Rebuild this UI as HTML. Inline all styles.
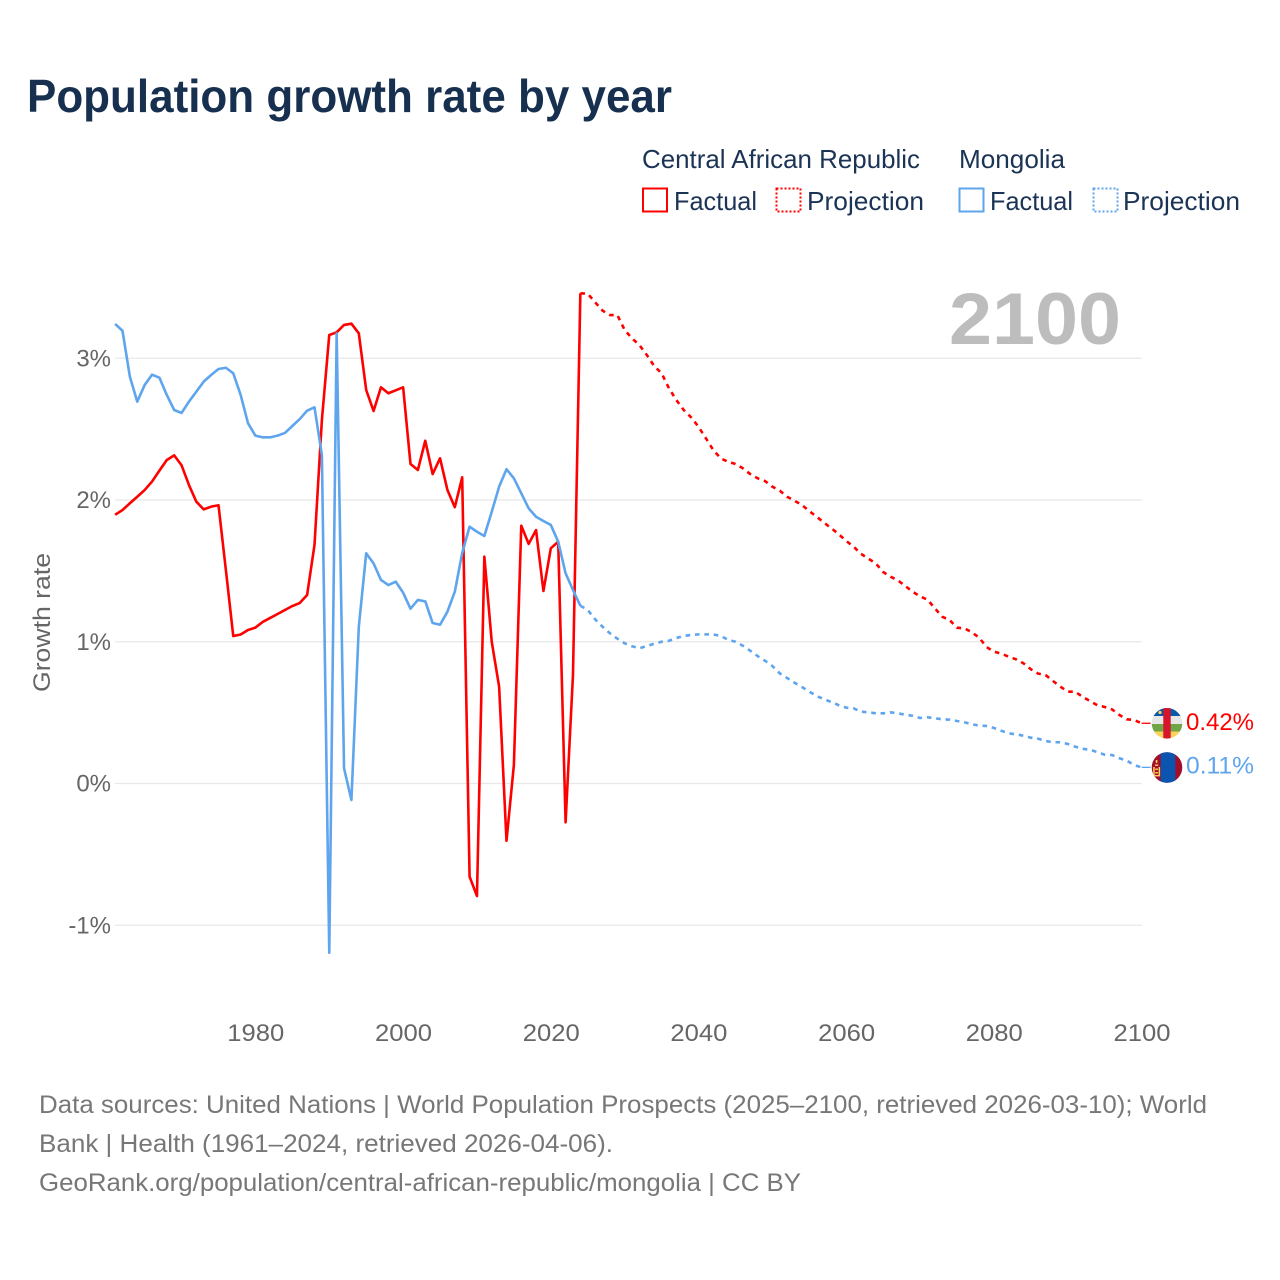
<!DOCTYPE html>
<html lang="en">
<head>
<meta charset="utf-8">
<title>Population growth rate by year</title>
<style>
html,body{margin:0;padding:0;background:#fff;width:1280px;height:1280px;overflow:hidden}
svg{display:block}
text{font-family:"Liberation Sans",sans-serif}
</style>
</head>
<body>
<svg id="chart" width="1280" height="1280" viewBox="0 0 1280 1280" xmlns="http://www.w3.org/2000/svg">
  <defs>
    <clipPath id="clip-car"><circle cx="1167" cy="723.3" r="15.3"/></clipPath>
    <clipPath id="clip-mng"><circle cx="1167" cy="767.5" r="15.3"/></clipPath>
  </defs>
  <text x="27" y="112" font-size="46" font-weight="700" fill="#17304f" textLength="645" lengthAdjust="spacingAndGlyphs">Population growth rate by year</text>

  <g>
    <text x="642" y="168" font-size="26" fill="#1b3355" textLength="278" lengthAdjust="spacingAndGlyphs">Central African Republic</text>
    <text x="959" y="168" font-size="26" fill="#1b3355" textLength="106" lengthAdjust="spacingAndGlyphs">Mongolia</text>
    <rect x="643" y="188.5" width="24" height="23" fill="none" stroke="#ff0000" stroke-width="2"/>
    <text x="674" y="210" font-size="26" fill="#1b3355" textLength="83" lengthAdjust="spacingAndGlyphs">Factual</text>
    <rect x="776.5" y="188.5" width="24" height="23" fill="none" stroke="#ff0000" stroke-width="2" stroke-dasharray="2 2"/>
    <text x="807" y="210" font-size="26" fill="#1b3355" textLength="117" lengthAdjust="spacingAndGlyphs">Projection</text>
    <rect x="959.5" y="188.5" width="24" height="23" fill="none" stroke="#5ea5ee" stroke-width="2"/>
    <text x="990" y="210" font-size="26" fill="#1b3355" textLength="83" lengthAdjust="spacingAndGlyphs">Factual</text>
    <rect x="1093.5" y="188.5" width="24" height="23" fill="none" stroke="#5ea5ee" stroke-width="2" stroke-dasharray="2 2"/>
    <text x="1123" y="210" font-size="26" fill="#1b3355" textLength="117" lengthAdjust="spacingAndGlyphs">Projection</text>
  </g>

  <text transform="translate(50,622.5) rotate(-90)" text-anchor="middle" font-size="24" fill="#666666" textLength="139" lengthAdjust="spacingAndGlyphs">Growth rate</text>
  <g id="grid"></g>
  <g id="y-labels"></g>
  <g id="x-labels"></g>
  <text x="1121" y="344" text-anchor="end" font-size="73" font-weight="700" fill="#bdbdbd" textLength="172" lengthAdjust="spacingAndGlyphs">2100</text>
  <g id="series"></g>

  <g clip-path="url(#clip-car)">
    <rect x="1150" y="706" width="34" height="10" fill="#0a58a8"/>
    <rect x="1150" y="716" width="34" height="8" fill="#e6e6e6"/>
    <rect x="1150" y="724" width="34" height="7.5" fill="#6fa544"/>
    <rect x="1150" y="731.5" width="34" height="10" fill="#fbd25a"/>
    <rect x="1163.3" y="706" width="7.4" height="35" fill="#d6142c"/>
    <circle cx="1160" cy="712.5" r="1.6" fill="#fbd25a"/>
  </g>
  <g clip-path="url(#clip-mng)">
    <rect x="1150" y="750" width="34" height="35" fill="#a10f2b"/>
    <rect x="1160.7" y="750" width="14.6" height="35" fill="#0b55b0"/>
    <rect x="1155.8" y="760" width="1.6" height="3" fill="#fbd25a"/>
    <rect x="1155" y="764.5" width="3.2" height="1.4" fill="#fbd25a"/>
    <rect x="1153.2" y="767" width="1.5" height="8" fill="#fbd25a"/>
    <rect x="1158.6" y="767" width="1.5" height="8" fill="#fbd25a"/>
    <rect x="1155.3" y="768.5" width="2.6" height="1.5" fill="#fbd25a"/>
    <rect x="1155.3" y="772" width="2.6" height="1.5" fill="#fbd25a"/>
    <rect x="1153.2" y="775" width="6.9" height="1.4" fill="#fbd25a"/>
  </g>
  <text x="1186" y="730" font-size="24" fill="#ff0000" textLength="68" lengthAdjust="spacingAndGlyphs">0.42%</text>
  <text x="1186" y="773.5" font-size="24" fill="#5ea5ee" textLength="68" lengthAdjust="spacingAndGlyphs">0.11%</text>

  <g font-size="25" fill="#777777">
    <text x="39" y="1113" textLength="1168" lengthAdjust="spacingAndGlyphs">Data sources: United Nations | World Population Prospects (2025–2100, retrieved 2026-03-10); World</text>
    <text x="39" y="1152" textLength="574" lengthAdjust="spacingAndGlyphs">Bank | Health (1961–2024, retrieved 2026-04-06).</text>
    <text x="39" y="1191" textLength="762" lengthAdjust="spacingAndGlyphs">GeoRank.org/population/central-african-republic/mongolia | CC BY</text>
  </g>
</svg>
<script>
var firstYear = 1961;
var projectionFirstYear = 2024;
var yTickValues = [-1, 0, 1, 2, 3];
var yTickLabels = ['-1%', '0%', '1%', '2%', '3%'];
var xTickValues = [1980, 2000, 2020, 2040, 2060, 2080, 2100];
var xTickLabels = ['1980', '2000', '2020', '2040', '2060', '2080', '2100'];

var carFactual = [1.896,1.929,1.977,2.023,2.07,2.13,2.207,2.282,2.315,2.245,2.106,1.988,1.934,1.953,1.963,1.506,1.04,1.051,1.083,1.10,1.14,1.168,1.196,1.224,1.252,1.273,1.33,1.683,2.564,3.164,3.183,3.235,3.244,3.176,2.776,2.628,2.795,2.753,2.774,2.795,2.254,2.212,2.418,2.183,2.294,2.071,1.949,2.16,-0.657,-0.794,1.60,1.0,0.683,-0.404,0.131,1.819,1.69,1.788,1.358,1.659,1.706,-0.274,0.765,3.458];
var carProjection = [3.458,3.455,3.395,3.336,3.305,3.305,3.2,3.14,3.093,3.023,2.945,2.894,2.788,2.705,2.635,2.583,2.517,2.435,2.353,2.294,2.27,2.254,2.224,2.183,2.153,2.134,2.094,2.066,2.023,1.995,1.965,1.922,1.882,1.84,1.80,1.758,1.711,1.671,1.62,1.586,1.553,1.492,1.459,1.433,1.393,1.353,1.32,1.297,1.236,1.177,1.153,1.099,1.095,1.067,1.029,0.963,0.93,0.916,0.895,0.876,0.848,0.806,0.775,0.765,0.723,0.683,0.648,0.648,0.612,0.582,0.552,0.54,0.523,0.483,0.453,0.448,0.425];
var mongoliaFactual = [3.242,3.194,2.87,2.694,2.811,2.884,2.863,2.741,2.635,2.614,2.694,2.764,2.835,2.882,2.924,2.933,2.894,2.741,2.541,2.454,2.442,2.442,2.454,2.473,2.522,2.571,2.63,2.654,2.317,-1.194,3.176,0.107,-0.116,1.106,1.624,1.553,1.436,1.40,1.424,1.346,1.233,1.295,1.285,1.132,1.12,1.212,1.353,1.626,1.812,1.776,1.746,1.917,2.094,2.217,2.153,2.047,1.941,1.882,1.852,1.824,1.706,1.483,1.365,1.254];
var mongoliaProjection = [1.254,1.224,1.158,1.106,1.06,1.022,0.989,0.968,0.954,0.97,0.986,1.0,1.007,1.026,1.041,1.048,1.052,1.052,1.052,1.041,1.014,1.0,0.972,0.937,0.899,0.866,0.829,0.777,0.744,0.711,0.681,0.648,0.617,0.594,0.575,0.552,0.535,0.53,0.507,0.502,0.495,0.495,0.502,0.495,0.485,0.478,0.462,0.467,0.46,0.453,0.45,0.441,0.432,0.418,0.408,0.406,0.392,0.372,0.354,0.347,0.337,0.323,0.316,0.30,0.291,0.291,0.279,0.26,0.245,0.238,0.222,0.203,0.201,0.178,0.161,0.13,0.114];

var SVGNS = 'http://www.w3.org/2000/svg';
function xScale(year) { return 115.1 + (year - 1961) * 7.385; }
function yScale(value) { return 783.5 - value * 141.75; }
function pointsFor(values, startYear) {
  return values.map(function (v, i) {
    return xScale(startYear + i).toFixed(2) + ',' + yScale(v).toFixed(2);
  }).join(' ');
}

var grid = document.getElementById('grid');
var yLabels = document.getElementById('y-labels');
yTickValues.forEach(function (value, i) {
  var line = document.createElementNS(SVGNS, 'line');
  
  
  line.setAttribute('x1', xScale(1961));
  line.setAttribute('x2', 1142);
  line.setAttribute('y1', yScale(value));
  line.setAttribute('y2', yScale(value));
  line.setAttribute('stroke', '#e8e8e8');
  line.setAttribute('stroke-width', '1.3');
  grid.appendChild(line);
  var label = document.createElementNS(SVGNS, 'text');
  
  
  label.setAttribute('x', 111);
  label.setAttribute('y', yScale(value) + 8);
  label.setAttribute('text-anchor', 'end');
  label.setAttribute('font-size', '24');
  label.setAttribute('fill', '#666666');
  label.textContent = yTickLabels[i];
  yLabels.appendChild(label);
});

var xLabels = document.getElementById('x-labels');
xTickValues.forEach(function (year, i) {
  var label = document.createElementNS(SVGNS, 'text');
  
  
  label.setAttribute('x', xScale(year) + 0.4);
  label.setAttribute('y', 1041);
  label.setAttribute('text-anchor', 'middle');
  label.setAttribute('font-size', '24');
  label.setAttribute('fill', '#666666');
  label.setAttribute('textLength', '57');
  label.setAttribute('lengthAdjust', 'spacingAndGlyphs');
  label.textContent = xTickLabels[i];
  xLabels.appendChild(label);
});

var seriesGroup = document.getElementById('series');
function drawLine(name, values, startYear, color, dashed) {
  var line = document.createElementNS(SVGNS, 'polyline');
  
  
  line.setAttribute('points', pointsFor(values, startYear));
  line.setAttribute('fill', 'none');
  line.setAttribute('stroke', color);
  line.setAttribute('stroke-width', '2.6');
  line.setAttribute('stroke-linejoin', 'round');
  if (dashed) { line.setAttribute('stroke-dasharray', '4.6 4.8'); }
  seriesGroup.appendChild(line);
}
function drawConnector(name, values, color) {
  var end = values[values.length - 1];
  var connector = document.createElementNS(SVGNS, 'line');
  
  
  connector.setAttribute('x1', xScale(2100));
  connector.setAttribute('x2', xScale(2100) + 9);
  connector.setAttribute('y1', yScale(end));
  connector.setAttribute('y2', yScale(end));
  connector.setAttribute('stroke', color);
  connector.setAttribute('stroke-width', '1.3');
  seriesGroup.appendChild(connector);
}
drawLine('car-factual-line', carFactual, firstYear, '#ff0000', false);
drawLine('car-projection-line', carProjection, projectionFirstYear, '#ff0000', true);
drawLine('mongolia-factual-line', mongoliaFactual, firstYear, '#5ea5ee', false);
drawLine('mongolia-projection-line', mongoliaProjection, projectionFirstYear, '#5ea5ee', true);
drawConnector('car-end-connector', carProjection, '#ff0000');
drawConnector('mongolia-end-connector', mongoliaProjection, '#5ea5ee');
</script>
</body>
</html>
